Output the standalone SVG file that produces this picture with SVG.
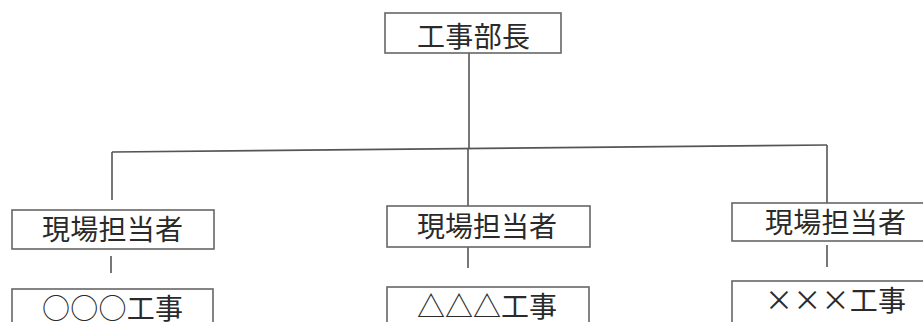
<svg xmlns="http://www.w3.org/2000/svg" width="923" height="322" viewBox="0 0 923 322">
<style>
.box{fill:#fff;stroke:#666;stroke-width:1.6}
.ln{fill:none;stroke:#555;stroke-width:1.6}
.t{font-family:"Noto Sans CJK JP","Noto Sans CJK SC",sans-serif;font-size:28px;font-weight:400;fill:#2a2a2a}
</style>
<rect width="923" height="322" fill="#fff"/>
<g id="connectors">
<path class="ln" d="M469 53 V148.5"/>
<path class="ln" d="M112 152 L827 145"/>
<path class="ln" d="M112 152 V200"/>
<path class="ln" d="M468 148.5 V206"/>
<path class="ln" d="M827 145 V203"/>
<path class="ln" d="M111 256 V273"/>
<path class="ln" d="M468 247 V268"/>
<path class="ln" d="M827 245 V267"/>
</g>
<g id="bucho">
<rect class="box" x="385" y="13" width="176" height="40"/>
<text class="t" x="417" y="47" textLength="113" lengthAdjust="spacing">工事部長</text>
</g>
<g id="tanto1">
<rect class="box" x="12" y="210" width="202" height="39"/>
<text class="t" x="42" y="240" textLength="141" lengthAdjust="spacing">現場担当者</text>
</g>
<g id="tanto2">
<rect class="box" x="387" y="206" width="203" height="41"/>
<text class="t" x="417" y="237" textLength="140" lengthAdjust="spacing">現場担当者</text>
</g>
<g id="tanto3">
<rect class="box" x="732" y="203" width="204" height="38"/>
<text class="t" x="765" y="233" textLength="141" lengthAdjust="spacing">現場担当者</text>
</g>
<g id="koji1">
<rect class="box" x="12" y="289" width="201" height="60"/>
<text class="t" x="42" y="319" textLength="141" lengthAdjust="spacing">○○○工事</text>
</g>
<g id="koji2">
<rect class="box" x="387" y="287" width="202" height="60"/>
<text class="t" x="417" y="317" textLength="140" lengthAdjust="spacing">△△△工事</text>
</g>
<g id="koji3">
<rect class="box" x="732" y="281" width="204" height="60"/>
<text class="t" x="765" y="311" textLength="141" lengthAdjust="spacing">×××工事</text>
</g>
</svg>
